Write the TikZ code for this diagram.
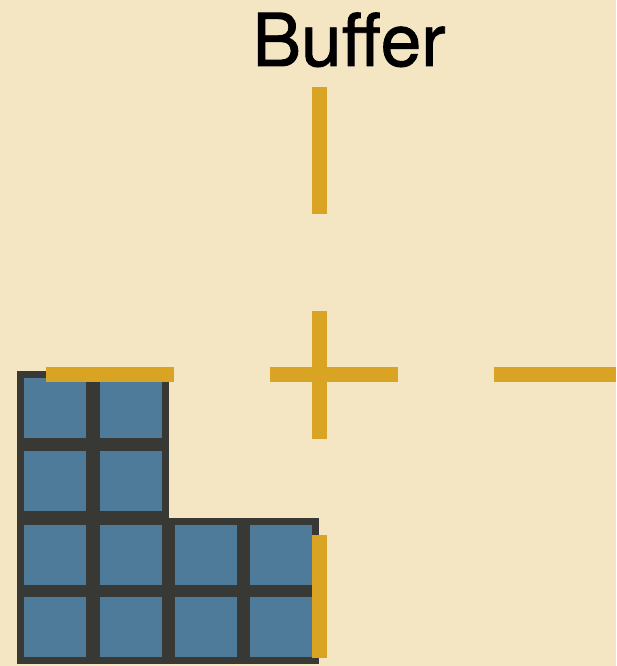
\documentclass[tikz,border=0pt]{standalone}
\usepackage{fontspec}
\setmainfont{TeX Gyre Heros}
\newfontface\titlefont{TeX Gyre Heros}[FakeBold=1.2]
\usepackage{xcolor}
\usetikzlibrary{positioning}

\definecolor{paper}{HTML}{F4E5C3}
\definecolor{cellfill}{HTML}{4E7B9A}
\definecolor{cellborder}{HTML}{383935}
\definecolor{bar}{HTML}{D9A323}

\tikzset{
  cell/.style={draw=cellborder,fill=cellfill,line width=7pt,minimum width=69pt,minimum height=67pt,inner sep=0pt},
  barline/.style={draw=bar,line width=15pt}
}

\begin{document}
\begin{tikzpicture}[x=1pt,y=-1pt]
  % background and frame
  \fill[paper] (0,0) rectangle (616,666);
  \useasboundingbox (0,0) rectangle (616,666);
  % title
  \node[anchor=base,font=\titlefont\fontsize{73}{80}\selectfont] (title) at (349,66) {Buffer};
  % stacked cells
  \foreach \n/\x/\y in {a/55/408, b/131/408, c/55/481, d/131/481,
                        e/55/555, f/131/555, g/206/555, h/281/555,
                        i/55/627, j/131/627, k/206/627, l/281/627}{
    \node[cell] (\n) at (\x,\y) {};
  }
  % buffer marks
  \draw[barline] (319,87) -- (319,214);
  \draw[barline] (319,311) -- (319,439);
  \draw[barline] (270,374) -- (398,374);
  \draw[barline] (46,374) -- (174,374);
  \draw[barline] (494,374) -- (616,374);
  \draw[barline] (319,535) -- (319,658);
\end{tikzpicture}
\end{document}
